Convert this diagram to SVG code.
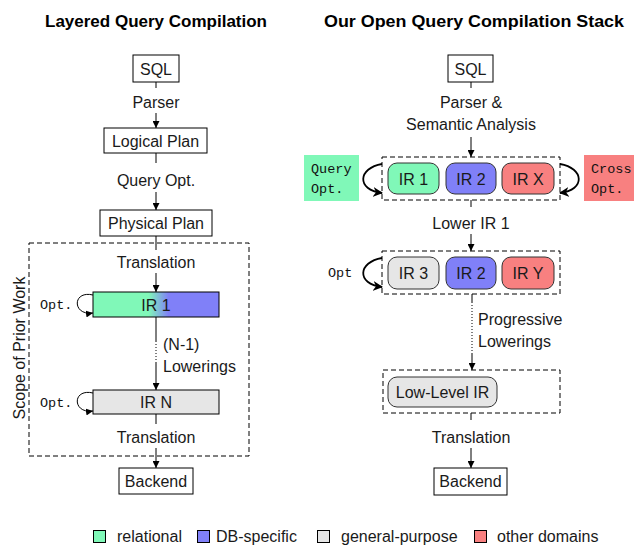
<svg xmlns="http://www.w3.org/2000/svg" width="634" height="545" viewBox="0 0 634 545">
  <defs>
    <marker id="ah" viewBox="0 0 10 10" refX="10" refY="5" markerWidth="7" markerHeight="7" markerUnits="userSpaceOnUse" orient="auto">
      <path d="M0,0 L10,5 L0,10 z" fill="#000"/>
    </marker>
    <marker id="ahb" viewBox="0 0 10 10" refX="9" refY="5" markerWidth="10" markerHeight="10" markerUnits="userSpaceOnUse" orient="auto">
      <path d="M0,0 L10,5 L0,10 L3,5 z" fill="#000"/>
    </marker>
    <linearGradient id="mix" x1="0" y1="0" x2="1" y2="0">
      <stop offset="0.44" stop-color="#80f8b8"/>
      <stop offset="0.60" stop-color="#8080f8"/>
    </linearGradient>
  </defs>
  <style>
    .title { font-family: "Liberation Sans", Arial, sans-serif; font-weight: bold; font-size: 17px; text-anchor: middle; fill: #000; }
    .lbl { font-family: "Liberation Sans", Arial, sans-serif; font-size: 16px; fill: #1a1a1a; }
    .mid { text-anchor: middle; }
    .tt { font-family: "Liberation Mono", "DejaVu Sans Mono", monospace; font-size: 13.5px; fill: #111; }
    .box { fill: #fff; stroke: #000; stroke-width: 1; }
    .ir { stroke: #000; stroke-width: 1; }
    .rir { stroke: #333; stroke-width: 1; }
    .frame { fill: none; stroke: #000; stroke-width: 1; stroke-dasharray: 5 3; }
    .edge { fill: none; stroke: #000; stroke-width: 1; }
    .dot { fill: none; stroke: #000; stroke-width: 1; stroke-dasharray: 1 2; }
    .loop { fill: none; stroke: #000; stroke-width: 1; }
    .bloop { fill: none; stroke: #000; stroke-width: 1.8; }
    .green { fill: #80f8b8; }
    .blue { fill: #8080f8; }
    .red { fill: #f88080; }
    .gray { fill: #e6e6e6; }
  </style>

  <!-- column headings -->
  <text class="title" x="156" y="27" textLength="222" lengthAdjust="spacingAndGlyphs">Layered Query Compilation</text>
  <text class="title" x="474" y="27" textLength="300" lengthAdjust="spacingAndGlyphs">Our Open Query Compilation Stack</text>

  <!-- ===== layered pipeline (left) ===== -->
  <g id="scope">
    <rect class="frame" x="29" y="243" width="220" height="213"/>
    <text class="lbl mid" transform="translate(25,348) rotate(-90)">Scope of Prior Work</text>
  </g>
  <g id="l-sql">
    <rect class="box" x="133" y="55" width="46" height="27"/>
    <text class="lbl mid" x="156" y="75">SQL</text>
  </g>
  <g id="l-logical">
    <rect class="box" x="104" y="128" width="103" height="25"/>
    <text class="lbl mid" x="155.5" y="146.5">Logical Plan</text>
  </g>
  <g id="l-physical">
    <rect class="box" x="100" y="210" width="112" height="26"/>
    <text class="lbl mid" x="156" y="229">Physical Plan</text>
  </g>
  <g id="l-ir1">
    <rect class="ir" x="93" y="292" width="126" height="25" fill="url(#mix)"/>
    <text class="lbl mid" x="156" y="311">IR 1</text>
    <text class="tt" x="40" y="309">Opt.</text>
  </g>
  <g id="l-irn">
    <rect class="ir gray" x="93" y="390" width="126" height="24"/>
    <text class="lbl mid" x="156" y="408">IR N</text>
    <text class="tt" x="40" y="407">Opt.</text>
  </g>
  <g id="l-backend">
    <rect class="box" x="119" y="468" width="74" height="26"/>
    <text class="lbl mid" x="156" y="487">Backend</text>
  </g>

  <!-- ===== open stack (right) ===== -->
  <g id="r-sql">
    <rect class="box" x="448" y="55" width="45" height="27"/>
    <text class="lbl mid" x="470.5" y="75">SQL</text>
  </g>
  <g id="r-stage1">
    <rect class="frame" x="382" y="157" width="178" height="43"/>
    <rect class="rir green" x="388" y="163" width="51" height="31" rx="9"/>
    <text class="lbl mid" x="413.5" y="185">IR 1</text>
    <rect class="rir blue" x="446" y="163" width="50" height="31" rx="9"/>
    <text class="lbl mid" x="471" y="185">IR 2</text>
    <rect class="rir red" x="502" y="163" width="52" height="31" rx="9"/>
    <text class="lbl mid" x="528" y="185">IR X</text>
  </g>
  <g id="r-queryopt">
    <rect class="green" x="304" y="155" width="55" height="46"/>
    <text class="tt" x="311" y="173">Query</text>
    <text class="tt" x="311" y="193">Opt.</text>
  </g>
  <g id="r-crossopt">
    <rect class="red" x="584" y="155" width="52" height="46"/>
    <text class="tt" x="591" y="173">Cross</text>
    <text class="tt" x="591" y="193">Opt.</text>
  </g>
  <g id="r-stage2">
    <rect class="frame" x="382" y="251" width="178" height="43"/>
    <rect class="rir gray" x="388" y="257" width="51" height="32" rx="9"/>
    <text class="lbl mid" x="413.5" y="279">IR 3</text>
    <rect class="rir blue" x="446" y="257" width="50" height="32" rx="9"/>
    <text class="lbl mid" x="471" y="279">IR 2</text>
    <rect class="rir red" x="502" y="257" width="52" height="32" rx="9"/>
    <text class="lbl mid" x="528" y="279">IR Y</text>
    <text class="tt" x="328" y="277">Opt</text>
  </g>
  <g id="r-lowlevel">
    <rect class="frame" x="383" y="370" width="177" height="43"/>
    <rect class="rir gray" x="388" y="377" width="109" height="30" rx="9"/>
    <text class="lbl mid" x="442.5" y="398">Low-Level IR</text>
  </g>
  <g id="r-backend">
    <rect class="box" x="434" y="468" width="73" height="27"/>
    <text class="lbl mid" x="470.5" y="487">Backend</text>
  </g>

  <!-- ===== connectors ===== -->
  <g id="connectors">
    <!-- left -->
    <line class="edge" x1="156" y1="82" x2="156" y2="88"/>
    <text class="lbl mid" x="156" y="108">Parser</text>
    <line class="edge" x1="156" y1="113" x2="156" y2="128" marker-end="url(#ah)"/>
    <line class="edge" x1="156" y1="153" x2="156" y2="163"/>
    <text class="lbl mid" x="156" y="186">Query Opt.</text>
    <line class="edge" x1="156" y1="192" x2="156" y2="210" marker-end="url(#ah)"/>
    <line class="edge" x1="156" y1="236" x2="156" y2="250"/>
    <text class="lbl mid" x="156" y="268">Translation</text>
    <line class="edge" x1="156" y1="273" x2="156" y2="292" marker-end="url(#ah)"/>
    <line class="edge" x1="156" y1="317" x2="156" y2="341"/>
    <line class="dot" x1="156" y1="341" x2="156" y2="363"/>
    <line class="edge" x1="156" y1="363" x2="156" y2="390" marker-end="url(#ah)"/>
    <text class="lbl" x="163" y="350">(N-1)</text>
    <text class="lbl" x="163" y="372">Lowerings</text>
    <line class="edge" x1="156" y1="414" x2="156" y2="424"/>
    <text class="lbl mid" x="156" y="443">Translation</text>
    <line class="edge" x1="156" y1="448" x2="156" y2="468" marker-end="url(#ah)"/>
    <path class="loop" d="M93,295 C72,290 72,316 93,313" marker-end="url(#ah)"/>
    <path class="loop" d="M93,393 C72,388 72,414 93,411" marker-end="url(#ah)"/>

    <!-- right -->
    <line class="edge" x1="471" y1="82" x2="471" y2="88"/>
    <text class="lbl mid" x="471" y="108">Parser &amp;</text>
    <text class="lbl mid" x="471" y="130">Semantic Analysis</text>
    <line class="edge" x1="471" y1="137" x2="471" y2="157" marker-end="url(#ah)"/>
    <line class="edge" x1="471" y1="200" x2="471" y2="207"/>
    <text class="lbl mid" x="471" y="229">Lower IR 1</text>
    <line class="edge" x1="471" y1="234" x2="471" y2="251" marker-end="url(#ah)"/>
    <line class="edge" x1="472" y1="294" x2="472" y2="302"/>
    <line class="dot" x1="472" y1="302" x2="472" y2="353"/>
    <line class="edge" x1="472" y1="353" x2="472" y2="370" marker-end="url(#ah)"/>
    <text class="lbl" x="478" y="325">Progressive</text>
    <text class="lbl" x="478" y="347">Lowerings</text>
    <line class="edge" x1="471" y1="413" x2="471" y2="420"/>
    <text class="lbl mid" x="471" y="443">Translation</text>
    <line class="edge" x1="471" y1="448" x2="471" y2="468" marker-end="url(#ah)"/>
    <path class="bloop" d="M382,164 C358,168 356,190 382,193" marker-end="url(#ahb)"/>
    <path class="bloop" d="M560,164 C584,168 586,190 560,193" marker-end="url(#ahb)"/>
    <path class="bloop" d="M382,258 C358,262 356,284 382,287" marker-end="url(#ahb)"/>
  </g>

  <!-- legend -->
  <g id="legend">
    <rect class="ir green" x="93.5" y="530.5" width="12" height="12"/>
    <text class="lbl" x="117" y="542">relational</text>
    <rect class="ir blue" x="197.5" y="530.5" width="12" height="12"/>
    <text class="lbl" x="216" y="542">DB-specific</text>
    <rect class="ir gray" x="317.5" y="530.5" width="12" height="12"/>
    <text class="lbl" x="341" y="542">general-purpose</text>
    <rect class="ir red" x="474.5" y="530.5" width="12" height="12"/>
    <text class="lbl" x="497" y="542">other domains</text>
  </g>
</svg>
